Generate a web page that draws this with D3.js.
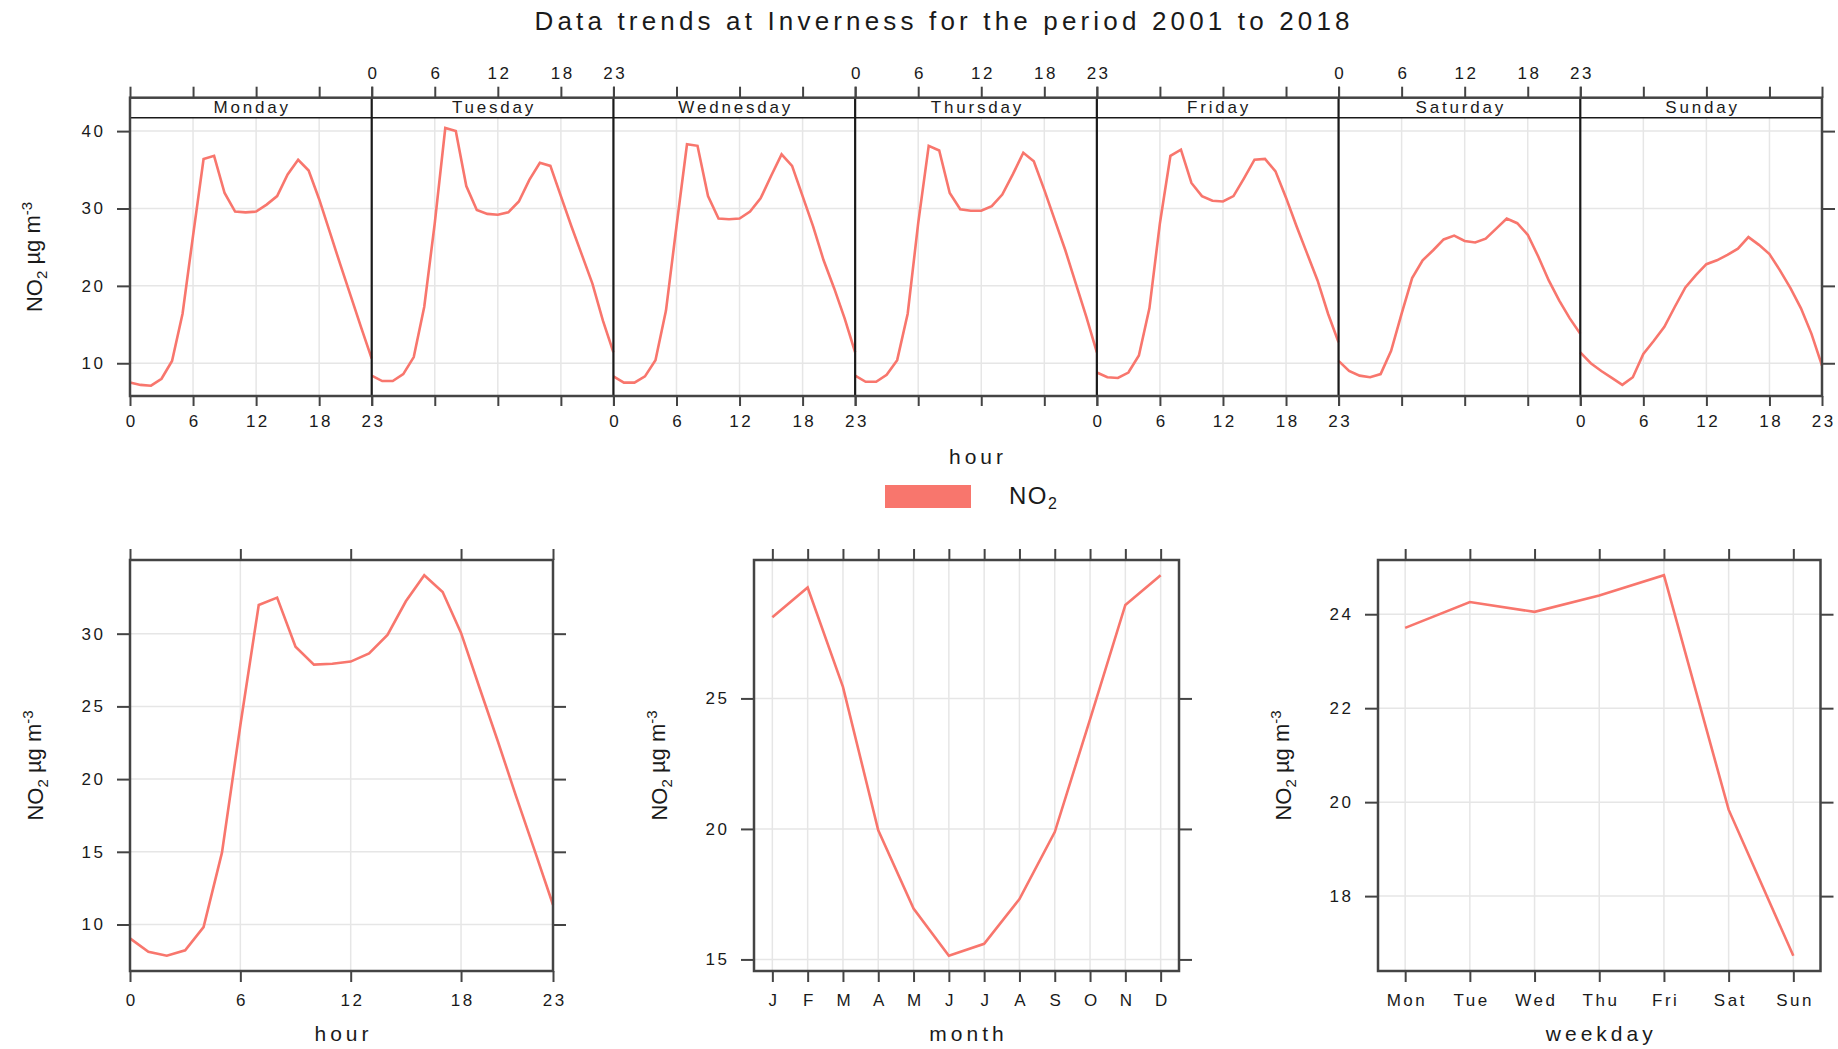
<!DOCTYPE html>
<html lang="en">
<head>
<meta charset="UTF-8" />
<title>Data trends at Inverness</title>
<script src="https://cdn.jsdelivr.net/npm/d3@7/dist/d3.min.js"></script>
<style>
  body { margin: 0; background: #fff; }
  svg text { font-family: "Liberation Sans", Arial, sans-serif; fill: #1a1a1a; }
</style>
</head>
<body>
<div id="chart"></div>
<script>
// ---- data ----
var hours = [0, 1, 2, 3, 4, 5, 6, 7, 8, 9, 10, 11, 12, 13, 14, 15, 16, 17, 18, 19, 20, 21, 22, 23];
var dayNames = ["Monday", "Tuesday", "Wednesday", "Thursday", "Friday", "Saturday", "Sunday"];
var mondayNO2 = [7.5, 7.2, 7.1, 8.0, 10.3, 16.4, 26.5, 36.4, 36.8, 32.0, 29.6, 29.5, 29.6, 30.5, 31.6, 34.4, 36.3, 34.9, 31.2, 27.0, 22.8, 18.7, 14.6, 10.6];
var tuesdayNO2 = [8.4, 7.7, 7.7, 8.6, 10.8, 17.3, 28.1, 40.4, 40.0, 32.9, 29.8, 29.3, 29.2, 29.5, 30.9, 33.7, 35.9, 35.5, 31.6, 27.7, 24.0, 20.3, 15.5, 11.4];
var wednesdayNO2 = [8.3, 7.5, 7.5, 8.3, 10.4, 16.8, 27.7, 38.3, 38.1, 31.6, 28.7, 28.6, 28.7, 29.6, 31.3, 34.2, 37.0, 35.5, 31.6, 27.7, 23.3, 19.7, 15.8, 11.4];
var thursdayNO2 = [8.4, 7.6, 7.6, 8.5, 10.4, 16.4, 28.1, 38.1, 37.5, 32.0, 29.9, 29.7, 29.7, 30.3, 31.8, 34.4, 37.2, 36.1, 32.4, 28.5, 24.6, 20.3, 16.0, 11.4];
var fridayNO2 = [8.8, 8.2, 8.1, 8.8, 11.0, 17.1, 28.1, 36.8, 37.6, 33.3, 31.6, 31.0, 30.9, 31.6, 33.9, 36.3, 36.4, 34.8, 31.4, 27.7, 24.2, 20.7, 16.4, 12.7];
var saturdayNO2 = [10.3, 9.0, 8.4, 8.2, 8.6, 11.6, 16.4, 21.0, 23.3, 24.6, 26.0, 26.5, 25.8, 25.6, 26.1, 27.4, 28.7, 28.1, 26.6, 23.8, 20.7, 18.1, 15.8, 13.8];
var sundayNO2 = [11.4, 10.0, 9.0, 8.1, 7.2, 8.2, 11.2, 12.9, 14.7, 17.3, 19.8, 21.4, 22.8, 23.3, 24.0, 24.8, 26.3, 25.3, 24.1, 22.0, 19.7, 17.1, 13.8, 9.7];
var hourNO2 = [9.05, 8.13, 7.85, 8.23, 9.82, 14.94, 23.7, 31.97, 32.48, 29.1, 27.87, 27.93, 28.08, 28.64, 29.92, 32.23, 34.02, 32.87, 30.05, 26.3, 22.6, 18.8, 15.1, 11.36];
var monthNumbers = [1, 2, 3, 4, 5, 6, 7, 8, 9, 10, 11, 12];
var monthLabels = ["J", "F", "M", "A", "M", "J", "J", "A", "S", "O", "N", "D"];
var monthNO2 = [28.11, 29.25, 25.44, 19.95, 16.95, 15.14, 15.6, 17.31, 19.88, 24.2, 28.58, 29.72];
var weekdayLabels = ["Mon", "Tue", "Wed", "Thu", "Fri", "Sat", "Sun"];
var weekdayNO2 = [23.71, 24.26, 24.05, 24.40, 24.83, 19.84, 16.73];

var hourTicks = [0, 6, 12, 18, 23];
var dayYTicks = [10, 20, 30, 40];
var hourYTicks = [10, 15, 20, 25, 30];
var monthYTicks = [15, 20, 25];
var weekdayYTicks = [18, 20, 22, 24];

var dayNO2 = [mondayNO2, tuesdayNO2, wednesdayNO2, thursdayNO2, fridayNO2, saturdayNO2, sundayNO2];

var width = 1838, height = 1049;
var lineCol = "#F8766D", frameCol = "#444", gridCol = "#e6e6e6", sepCol = "#1a1a1a";
var tickLs = 2.5;

var svg = d3.select("#chart").append("svg")
  .attr("width", width)
  .attr("height", height);

// lattice style: data range stretched by 4%
function padded(vals) {
  var e = d3.extent(vals), p = (e[1] - e[0]) * 0.04;
  return [e[0] - p, e[1] + p];
}

function styleAxis(g, anchor) {
  g.select(".domain").remove();
  g.selectAll(".tick line").attr("stroke", frameCol).attr("stroke-width", 2);
  g.selectAll(".tick text")
    .style("font-size", "17px")
    .style("letter-spacing", tickLs + "px")
    .attr("dx", anchor == "end" ? tickLs : tickLs / 2);
}

function yTitle(x, y) {
  var t = svg.append("text")
    .attr("transform", "translate(" + x + "," + y + ") rotate(-90)")
    .attr("text-anchor", "middle")
    .style("font-size", "22px");
  t.append("tspan").text("NO");
  t.append("tspan").text("2").attr("dy", "0.3em").style("font-size", "15px");
  t.append("tspan").text(" \u00b5g m").attr("dy", "-0.3em");
  t.append("tspan").text("-3").attr("dy", "-0.55em").style("font-size", "15px");
}

function xTitle(label, x, y) {
  svg.append("text")
    .attr("x", x).attr("y", y)
    .attr("dx", 2)
    .attr("text-anchor", "middle")
    .style("font-size", "21px")
    .style("letter-spacing", "4px")
    .text(label);
}

// ---- title ----
svg.append("text")
  .attr("x", 942).attr("y", 30)
  .attr("text-anchor", "middle")
  .attr("textLength", 815)
  .attr("lengthAdjust", "spacing")
  .style("font-size", "26px")
  .text("Data trends at Inverness for the period 2001 to 2018");

/* ------------------ top panel: hour by day of week -----------------*/
var tp = { left: 130, right: 1822, stripTop: 97.7, plotTop: 117.7, bottom: 396 };
var dayW = (tp.right - tp.left) / 7;
var yDay = d3.scaleLinear()
  .domain(padded(d3.merge(dayNO2)))
  .range([tp.bottom, tp.plotTop]);

svg.append("g").selectAll("line")
  .data(dayYTicks)
  .join("line")
  .attr("x1", tp.left).attr("x2", tp.right)
  .attr("y1", function(d) { return yDay(d); })
  .attr("y2", function(d) { return yDay(d); })
  .attr("stroke", gridCol).attr("stroke-width", 1.5);

dayNames.forEach(function(day, i) {
  var x = d3.scaleLinear().domain([0, 23]).range([tp.left + i * dayW, tp.left + (i + 1) * dayW]);

  svg.append("g").selectAll("line")
    .data(hourTicks)
    .join("line")
    .attr("x1", function(d) { return x(d); })
    .attr("x2", function(d) { return x(d); })
    .attr("y1", tp.plotTop).attr("y2", tp.bottom)
    .attr("stroke", gridCol).attr("stroke-width", 1.5);

  svg.append("path")
    .datum(dayNO2[i])
    .attr("d", d3.line()
      .x(function(d, j) { return x(hours[j]); })
      .y(function(d) { return yDay(d); }))
    .attr("fill", "none")
    .attr("stroke", lineCol)
    .attr("stroke-width", 2.6);

  // labels alternate: bottom on Mon/Wed/Fri/Sun, top on Tue/Thu/Sat
  svg.append("g")
    .attr("transform", "translate(0," + tp.bottom + ")")
    .call(d3.axisBottom(x).tickValues(hourTicks).tickSize(10).tickPadding(9)
      .tickFormat(i % 2 == 0 ? d3.format("d") : ""))
    .call(styleAxis, "middle");

  svg.append("g")
    .attr("transform", "translate(0," + tp.stripTop + ")")
    .call(d3.axisTop(x).tickValues(hourTicks).tickSize(11).tickPadding(8)
      .tickFormat(i % 2 == 1 ? d3.format("d") : ""))
    .call(styleAxis, "middle");

  svg.append("text")
    .attr("x", x(11.5)).attr("y", tp.stripTop + 15.5)
    .attr("dx", 1.4)
    .attr("text-anchor", "middle")
    .style("font-size", "17px")
    .style("letter-spacing", "2.8px")
    .text(day);
});

svg.append("line")
  .attr("x1", tp.left).attr("x2", tp.right)
  .attr("y1", tp.plotTop).attr("y2", tp.plotTop)
  .attr("stroke", sepCol).attr("stroke-width", 1.5);

svg.append("g").selectAll("line")
  .data(d3.range(1, 7))
  .join("line")
  .attr("x1", function(d) { return tp.left + d * dayW; })
  .attr("x2", function(d) { return tp.left + d * dayW; })
  .attr("y1", tp.stripTop).attr("y2", tp.bottom)
  .attr("stroke", sepCol).attr("stroke-width", 2.2);

svg.append("rect")
  .attr("x", tp.left).attr("y", tp.stripTop)
  .attr("width", tp.right - tp.left).attr("height", tp.bottom - tp.stripTop)
  .attr("fill", "none").attr("stroke", frameCol).attr("stroke-width", 2.5);

svg.append("g")
  .attr("transform", "translate(" + tp.left + ",0)")
  .call(d3.axisLeft(yDay).tickValues(dayYTicks).tickSize(13).tickPadding(14))
  .call(styleAxis, "end");
svg.append("g")
  .attr("transform", "translate(" + tp.right + ",0)")
  .call(d3.axisRight(yDay).tickValues(dayYTicks).tickSize(13).tickFormat(""))
  .call(styleAxis, "start");

yTitle(42, 257);
xTitle("hour", 976, 464);

// legend
svg.append("rect")
  .attr("x", 885).attr("y", 485)
  .attr("width", 86).attr("height", 23)
  .attr("fill", lineCol);
var leg = svg.append("text")
  .attr("x", 1009).attr("y", 504)
  .style("font-size", "24px")
  .style("letter-spacing", "1.5px");
leg.append("tspan").text("NO");
leg.append("tspan").text("2").attr("dy", "0.3em").style("font-size", "16px");

/* ------------------ bottom panels -----------------*/
var bTop = 560, bBottom = 971;

function smallPanel(p) {
  var y = d3.scaleLinear().domain(padded(p.values)).range([bBottom, bTop]);
  var x = p.x;

  svg.append("g").selectAll("line")
    .data(p.yTicks)
    .join("line")
    .attr("x1", p.left).attr("x2", p.right)
    .attr("y1", function(d) { return y(d); })
    .attr("y2", function(d) { return y(d); })
    .attr("stroke", gridCol).attr("stroke-width", 1.5);

  svg.append("g").selectAll("line")
    .data(p.xTicks)
    .join("line")
    .attr("x1", function(d) { return x(d); })
    .attr("x2", function(d) { return x(d); })
    .attr("y1", bTop).attr("y2", bBottom)
    .attr("stroke", gridCol).attr("stroke-width", 1.5);

  svg.append("path")
    .datum(p.values)
    .attr("d", d3.line()
      .x(function(d, j) { return x(p.xs[j]); })
      .y(function(d) { return y(d); }))
    .attr("fill", "none")
    .attr("stroke", lineCol)
    .attr("stroke-width", 2.6);

  svg.append("rect")
    .attr("x", p.left).attr("y", bTop)
    .attr("width", p.right - p.left).attr("height", bBottom - bTop)
    .attr("fill", "none").attr("stroke", frameCol).attr("stroke-width", 2.5);

  svg.append("g")
    .attr("transform", "translate(0," + bBottom + ")")
    .call(d3.axisBottom(x).tickValues(p.xTicks).tickSize(11).tickPadding(12).tickFormat(p.xFormat))
    .call(styleAxis, "middle");
  svg.append("g")
    .attr("transform", "translate(0," + bTop + ")")
    .call(d3.axisTop(x).tickValues(p.xTicks).tickSize(11).tickFormat(""))
    .call(styleAxis, "middle");
  svg.append("g")
    .attr("transform", "translate(" + p.left + ",0)")
    .call(d3.axisLeft(y).tickValues(p.yTicks).tickSize(13).tickPadding(14))
    .call(styleAxis, "end");
  svg.append("g")
    .attr("transform", "translate(" + p.right + ",0)")
    .call(d3.axisRight(y).tickValues(p.yTicks).tickSize(13).tickFormat(""))
    .call(styleAxis, "start");

  yTitle(p.left - 87, (bTop + bBottom) / 2);
  xTitle(p.title, (p.left + p.right) / 2, 1041);
}

smallPanel({
  left: 130, right: 553,
  x: d3.scaleLinear().domain([0, 23]).range([130, 553]),
  xs: hours, values: hourNO2,
  xTicks: hourTicks, xFormat: d3.format("d"),
  yTicks: hourYTicks, title: "hour"
});

smallPanel({
  left: 754, right: 1179,
  x: d3.scaleLinear().domain([0.48, 12.52]).range([754, 1179]),
  xs: monthNumbers, values: monthNO2,
  xTicks: monthNumbers, xFormat: function(d) { return monthLabels[d - 1]; },
  yTicks: monthYTicks, title: "month"
});

smallPanel({
  left: 1378, right: 1820.5,
  x: d3.scalePoint().domain(weekdayLabels).range([1378, 1820.5]).padding(0.42),
  xs: weekdayLabels, values: weekdayNO2,
  xTicks: weekdayLabels, xFormat: function(d) { return d; },
  yTicks: weekdayYTicks, title: "weekday"
});
</script>
</body>
</html>
